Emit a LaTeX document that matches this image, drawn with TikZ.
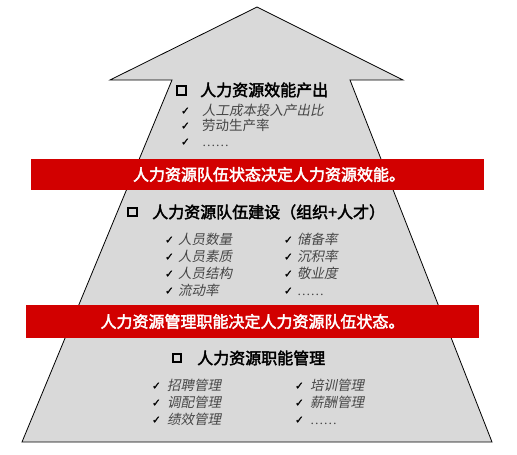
\documentclass[tikz,border=0pt]{standalone}
\usepackage{fontspec}
\usetikzlibrary{positioning}
\newfontfamily\cjk[AutoFakeBold=2.5]{Noto Sans CJK SC}
\newfontfamily\cjkit[FakeSlant=0.2]{Noto Sans CJK SC}
\newfontfamily\symfont[FakeBold=1.5]{DejaVu Sans}
\newfontfamily\dotfont{Liberation Serif}
\definecolor{bandred}{RGB}{210,0,0}
\definecolor{arrowgray}{RGB}{217,217,217}
\definecolor{itemgray}{RGB}{70,70,70}
\newcommand{\dotsline}{{\dotfont ……}}

\begin{document}
\begin{tikzpicture}[
  x=1pt, y=-1pt,
  band/.style={fill=bandred, minimum width=453pt, inner sep=0pt},
  bandtext/.style={inner sep=0pt, text=white, font=\cjk\bfseries\fontsize{16}{18}\selectfont},
  heading/.style={anchor=west, inner sep=0pt, font=\cjk\bfseries\fontsize{16}{18}\selectfont},
  box/.style={draw, line width=2.4pt, minimum size=8.5pt, inner sep=0pt},
  item/.style={anchor=west, inner sep=0pt, text=itemgray, text height=11.5pt, text depth=2pt, font=\cjkit\fontsize{13.5}{15}\selectfont},
  upright/.style={item, font=\cjk\fontsize{13.5}{15}\selectfont},
  tick/.style={inner sep=0pt, font=\symfont\fontsize{10.5}{12}\selectfont}
]
\useasboundingbox (0,0) rectangle (517,455);

% arrow body
\draw[fill=arrowgray, line width=0.8pt] (257,7) -- (403,80) -- (350,80) -- (492,442)
  -- (22,442) -- (172,80) -- (110,80) -- cycle;

% top: output
\node[box] (box1) at (181.5,90.5) {};
\node[heading] (head1) at (200,90) {人力资源效能产出};
\node[item] (out1) at (202,111) {人工成本投入产出比};
\node[upright] (out2) at (202,126) {劳动生产率};
\node[upright] (out3) at (202,142) {\dotsline};
\node[tick, left=12pt of out1] (t1) {✓};
\node[tick, left=12pt of out2] (t2) {✓};
\node[tick, left=12pt of out3] (t3) {✓};

\node[band, minimum height=31pt] (band1) at (257.5,174.5) {};
\node[bandtext] (msg1) at (269,174.5) {人力资源队伍状态决定人力资源效能。};

% middle: team
\node[box] (box2) at (132.5,212) {};
\node[heading] (head2) at (152,212) {人力资源队伍建设（组织+人才）};
\node[item] (team1) at (178,240) {人员数量};
\node[item] (team2) at (178,257) {人员素质};
\node[item] (team3) at (178,274) {人员结构};
\node[item] (team4) at (178,291) {流动率};
\node[item] (team5) at (297,240) {储备率};
\node[item] (team6) at (297,257) {沉积率};
\node[item] (team7) at (297,274) {敬业度};
\node[upright] (team8) at (297,291) {\dotsline};
\node[tick, left=4pt of team1] (t4) {✓};
\node[tick, left=4pt of team2] (t5) {✓};
\node[tick, left=4pt of team3] (t6) {✓};
\node[tick, left=4pt of team4] (t7) {✓};
\node[tick, left=4pt of team5] (t8) {✓};
\node[tick, left=4pt of team6] (t9) {✓};
\node[tick, left=4pt of team7] (t10) {✓};
\node[tick, left=4pt of team8] (t11) {✓};

\node[band, minimum height=33pt] (band2) at (252.5,321.5) {};
\node[bandtext] (msg2) at (252.5,321.5) {人力资源管理职能决定人力资源队伍状态。};

% bottom: functions
\node[box] (box3) at (177,358) {};
\node[heading] (head3) at (197,358) {人力资源职能管理};
\node[item] (func1) at (167,386) {招聘管理};
\node[item] (func2) at (167,403) {调配管理};
\node[item] (func3) at (167,420) {绩效管理};
\node[item] (func4) at (310,386) {培训管理};
\node[item] (func5) at (310,403) {薪酬管理};
\node[upright] (func6) at (310,420) {\dotsline};
\node[tick, left=6pt of func1] (t12) {✓};
\node[tick, left=6pt of func2] (t13) {✓};
\node[tick, left=6pt of func3] (t14) {✓};
\node[tick, left=6pt of func4] (t15) {✓};
\node[tick, left=6pt of func5] (t16) {✓};
\node[tick, left=6pt of func6] (t17) {✓};

\end{tikzpicture}
\end{document}
